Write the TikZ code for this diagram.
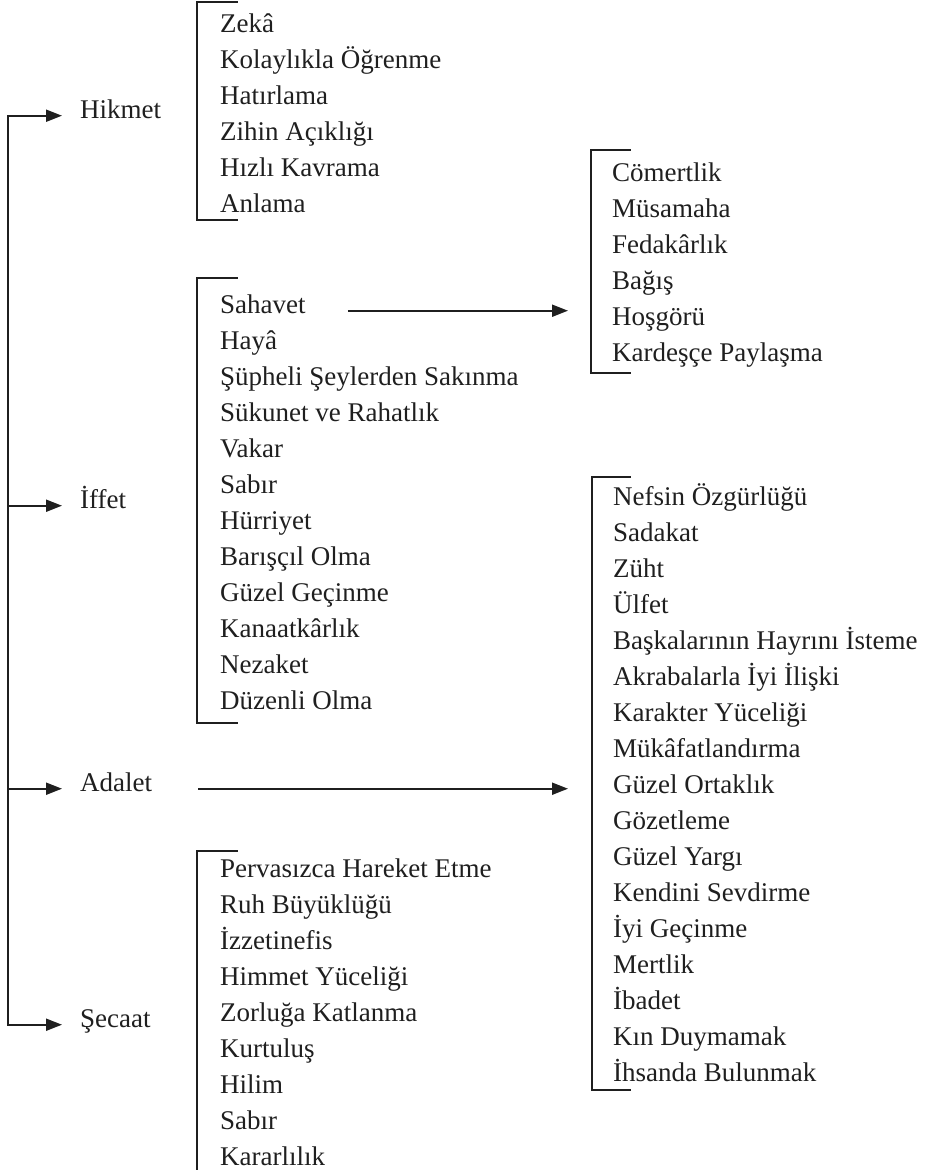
\documentclass[tikz,border=0pt]{standalone}
\usepackage{fontspec}
\setmainfont{Liberation Serif}
\usetikzlibrary{arrows.meta}
\tikzset{
  txt/.style={anchor=base west, inner sep=0pt, font=\fontsize{27}{36}\selectfont, text=black!88},
  ln/.style={line width=2pt, draw=black!88},
  arr/.style={ln, -{Triangle[length=16pt,width=12pt]}},
  brk/.style={ln, line cap=rect}
}
\begin{document}
\begin{tikzpicture}[x=1pt,y=-1pt]
\useasboundingbox (0,0) rectangle (927,1170);
% main labels
\node[txt] (hikmet) at (80,118) {Hikmet};
\node[txt] (iffet) at (80,508) {İffet};
\node[txt] (adalet) at (80,791) {Adalet};
\node[txt] (secaat) at (80,1027) {Şecaat};
\coordinate (spine) at (7.5,0);
% spine with first and last arrows
\draw[ln, {Triangle[length=16pt,width=12pt]}-{Triangle[length=16pt,width=12pt]}]
  ([xshift=-18pt]secaat.mid west) -- (spine |- secaat.mid west)
  -- (spine |- hikmet.mid west) -- ([xshift=-18pt]hikmet.mid west);
\draw[arr] (spine |- iffet.mid west) -- ([xshift=-18pt]iffet.mid west);
\draw[arr] (spine |- adalet.mid west) -- ([xshift=-18pt]adalet.mid west);

% Hikmet list
\foreach \t [count=\i from 0] in {Zekâ, Kolaylıkla Öğrenme, Hatırlama, Zihin Açıklığı, Hızlı Kavrama, Anlama}
  \node[txt] (h\i) at (220,32+36*\i) {\t};
\draw[brk] (237,2) -- (197,2) -- (197,220) -- (237,220);

% Iffet list
\foreach \t [count=\i from 0] in {Sahavet, Hayâ, Şüpheli Şeylerden Sakınma, Sükunet ve Rahatlık, Vakar, Sabır, Hürriyet, Barışçıl Olma, Güzel Geçinme, Kanaatkârlık, Nezaket, Düzenli Olma}
  \node[txt] (f\i) at (220,313+36*\i) {\t};
\draw[brk] (237,278) -- (197,278) -- (197,723) -- (237,723);

% Sahavet sub-list
\foreach \t [count=\i from 0] in {Cömertlik, Müsamaha, Fedakârlık, Bağış, Hoşgörü, Kardeşçe Paylaşma}
  \node[txt] (c\i) at (612,181+36*\i) {\t};
\draw[brk] (630,150) -- (591,150) -- (591,373) -- (630,373);
\coordinate (cbr) at (591,0);
\draw[arr] ([xshift=42pt]f0.mid east) -- ([xshift=-23pt]cbr |- f0.mid east);

% Adalet list
\foreach \t [count=\i from 0] in {Nefsin Özgürlüğü, Sadakat, Züht, Ülfet, Başkalarının Hayrını İsteme, Akrabalarla İyi İlişki, Karakter Yüceliği, Mükâfatlandırma, Güzel Ortaklık, Gözetleme, Güzel Yargı, Kendini Sevdirme, İyi Geçinme, Mertlik, İbadet, Kın Duymamak, İhsanda Bulunmak}
  \node[txt] (a\i) at (613,505+36*\i) {\t};
\draw[brk] (630,477) -- (592,477) -- (592,1090) -- (630,1090);
\coordinate (abr) at (592,0);
\draw[arr] ([xshift=46pt]adalet.mid east) -- ([xshift=-24pt]abr |- adalet.mid east);

% Secaat list
\foreach \t [count=\i from 0] in {Pervasızca Hareket Etme, Ruh Büyüklüğü, İzzetinefis, Himmet Yüceliği, Zorluğa Katlanma, Kurtuluş, Hilim, Sabır, Kararlılık}
  \node[txt] (s\i) at (220,877+36*\i) {\t};
\draw[brk] (237,851) -- (197,851) -- (197,1175);
\end{tikzpicture}
\end{document}
